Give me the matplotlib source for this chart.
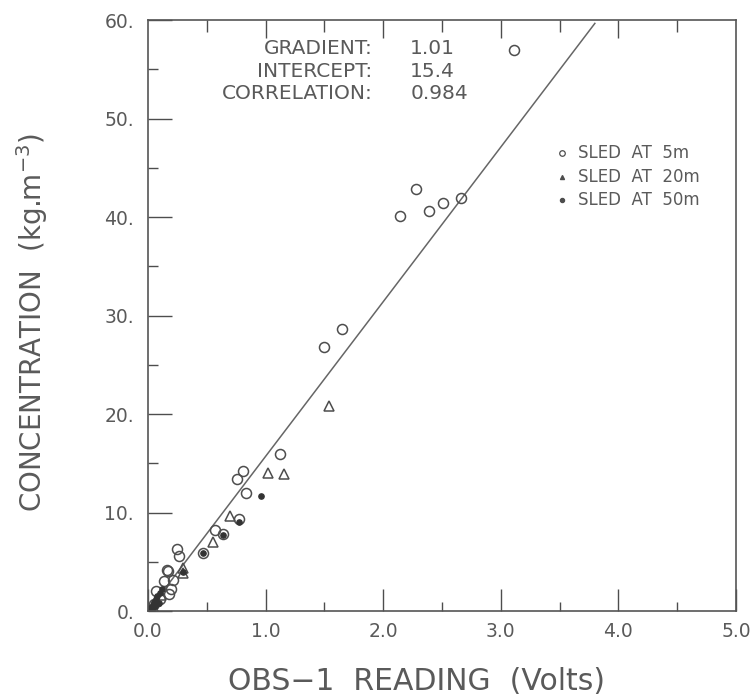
import matplotlib
matplotlib.use("Agg")
import matplotlib.pyplot as plt
import numpy as np

# sled at 5 m (open circles)
x5 = [3.11, 2.28, 2.14, 2.39, 2.51, 2.66, 1.65, 1.50, 1.12, 0.81, 0.76, 0.83,
      0.77, 0.57, 0.64, 0.47, 0.25, 0.26, 0.17, 0.16, 0.21, 0.14, 0.07, 0.20,
      0.18, 0.10, 0.05]
y5 = [57.0, 42.8, 40.1, 40.6, 41.4, 41.9, 28.6, 26.8, 15.9, 14.2, 13.4, 12.0,
      9.3, 8.2, 7.8, 5.9, 6.3, 5.6, 4.1, 4.2, 3.2, 3.0, 2.0, 2.2,
      1.7, 1.2, 0.7]

# sled at 20 m (triangles)
x20 = [1.54, 1.02, 1.16, 0.70, 0.55, 0.30, 0.30, 0.11, 0.07, 0.04]
y20 = [20.8, 14.0, 13.9, 9.6, 7.0, 4.4, 3.9, 1.6, 1.0, 0.5]

# sled at 50 m (filled)
x50 = [0.96, 0.77, 0.64, 0.47, 0.30, 0.02, 0.03, 0.04, 0.05, 0.06, 0.07,
       0.08, 0.09, 0.10, 0.12, 0.01, 0.03]
y50 = [11.7, 9.0, 7.7, 5.9, 4.0, 0.3, 0.1, 0.6, 0.9, 0.5, 1.2,
       1.5, 0.8, 1.8, 2.2, 0.2, 0.4]

# regression line
fit_slope = 15.7
fit_x = [0.15, 3.8]

stats_names = ["GRADIENT:", "INTERCEPT:", "CORRELATION:"]
stats_vals = ["1.01", "15.4", "0.984"]
legend_labels = ["SLED  AT  5m", "SLED  AT  20m", "SLED  AT  50m"]

ink = "#4d4d4d"
txt = "#5a5a5a"
plt.rcParams["font.family"] = "DejaVu Sans"

fig = plt.figure(figsize=(7.5, 6.98), dpi=100)
ax = fig.add_axes([0.1973, 0.1246, 0.784, 0.8467])

ax.plot(fit_x, [fit_slope * v for v in fit_x], color="#666666", lw=1.1)
ax.plot(x5, y5, "o", mfc="none", mec=ink, ms=7.2, mew=1.1, ls="none")
ax.plot(x20, y20, "^", mfc="none", mec=ink, ms=6.5, mew=1.1, ls="none")
ax.plot(x50, y50, "o", mfc="#333333", mec="#333333", ms=3.8, ls="none")

ax.set_xlim(0, 5)
ax.set_ylim(0, 60)
ax.set_xticks(np.arange(0, 5.01, 1.0))
ax.set_xticks(np.arange(0.5, 5, 1.0), minor=True)
ax.set_xticklabels(["0.0", "1.0", "2.0", "3.0", "4.0", "5.0"])
ax.set_yticks(np.arange(0, 61, 10))
ax.set_yticks(np.arange(5, 60, 10), minor=True)
ax.set_yticklabels(["0.", "10.", "20.", "30.", "40.", "50.", "60."])

ax.tick_params(axis="both", which="both", direction="in", colors=ink,
               labelcolor=txt, labelsize=13.5, width=1)
ax.tick_params(axis="x", which="major", length=16, pad=8)
ax.tick_params(axis="x", which="minor", length=6.5)
ax.tick_params(axis="y", which="major", length=17, pad=10)
ax.tick_params(axis="y", which="minor", length=7)

top = ax.secondary_xaxis("top")
top.set_xticks(np.arange(1, 5, 1.0))
top.set_xticks(np.arange(0.5, 5, 1.0), minor=True)
top.tick_params(which="major", direction="in", length=13, width=1,
                colors=ink, labeltop=False)
top.tick_params(which="minor", direction="in", length=8.5, width=1,
                colors=ink, labeltop=False)
top.spines["top"].set_visible(False)

for s in ax.spines.values():
    s.set_color("#555555")
    s.set_linewidth(1.2)

for i, (n, v) in enumerate(zip(stats_names, stats_vals)):
    yy = 57.1 - 2.3 * i
    ax.text(1.91, yy, n, ha="right", va="center", fontsize=14.5, color=txt)
    ax.text(2.23, yy, v, ha="left", va="center", fontsize=14.5, color=txt)

# legend drawn by hand
leg_markers = [("o", "none", 4), ("^", ink, 3), ("o", ink, 3)]
for i, (lab, (m, fc, ms)) in enumerate(zip(legend_labels, leg_markers)):
    yy = 46.5 - 2.4 * i
    ax.plot([3.52], [yy], m, mfc=fc, mec=ink, ms=ms, mew=0.9)
    ax.text(3.66, yy, lab, ha="left", va="center", fontsize=12, color=txt)

fig.text(416 / 750, 1 - 681 / 698, "OBS\u22121  READING  (Volts)",
         ha="center", va="center", fontsize=21.5, color=txt)
fig.text(32 / 750, 1 - 323 / 698, "CONCENTRATION  (kg.m$^{-3}$)",
         ha="center", va="center", rotation=90, fontsize=20, color=txt)

fig.savefig("out.png", dpi=100)
